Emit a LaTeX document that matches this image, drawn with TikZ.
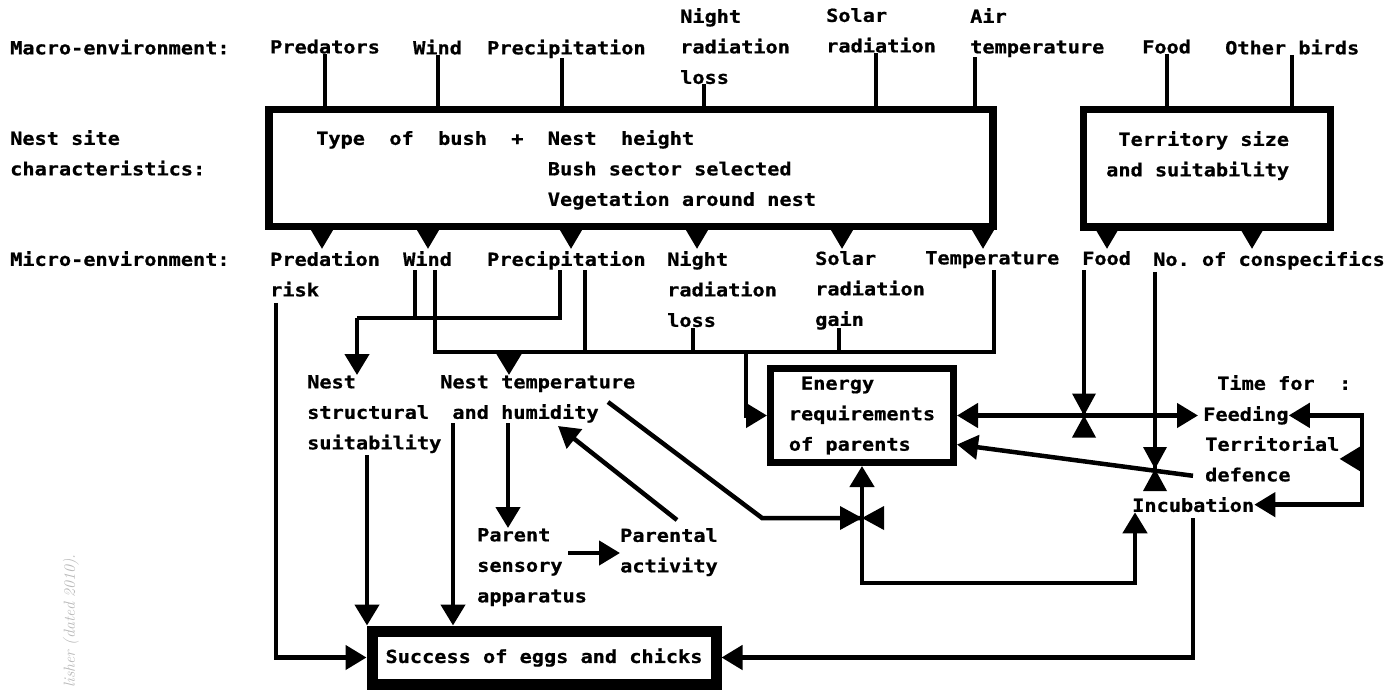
\documentclass[tikz,border=0pt]{standalone}
\usepackage{fontspec}
\setmonofont[FakeStretch=1.125,BoldFeatures={FakeBold=0.8}]{DejaVu Sans Mono}
\usetikzlibrary{arrows.meta}
\newcommand{\plotfont}{\fontsize{18}{30.5}\selectfont\ttfamily\bfseries}

\tikzset{
  lbl/.style={font=\plotfont,anchor=north west,inner sep=0pt,align=left},
  bigbox/.style={draw,line width=7.5pt,inner sep=0pt},
  macline/.style={line width=4pt},
  wire/.style={line width=4.5pt},
  wirearr/.style={wire,-{Triangle[length=21pt,width=24pt]}},
  wireboth/.style={wire,{Triangle[length=21pt,width=24pt]}-{Triangle[length=21pt,width=24pt]}},
  dropar/.style={wire,-{Triangle[length=20pt,width=22pt]}},
  valve/.pic={
    \fill (-12,-22) -- (12,-22) -- (0,0) -- cycle;
    \fill (-12,22) -- (12,22) -- (0,0) -- cycle;
  }
}

\begin{document}
\begin{tikzpicture}[x=1pt,y=-1pt]
        \useasboundingbox (0,0) rectangle (1393,691);
        % macro-environment row
        \node[lbl] (macro) at (10,39.5) {Macro-environment:};
        \node[lbl] (pred) at (270,39.5) {Predators};
        \node[lbl] (wind) at (413,39.5) {Wind};
        \node[lbl] (prec) at (487,39.5) {Precipitation};
        \node[lbl] (night) at (680,8) {Night\\radiation\\loss};
        \node[lbl] (solar) at (826,8) {Solar\\radiation};
        \node[lbl] (air) at (970,8) {Air\\temperature};
        \node[lbl] (food) at (1142,39.5) {Food};
        \node[lbl] (birds) at (1225,39.5) {Other birds};
        % nest site boxes
        \node[lbl] (siteh) at (10,130) {Nest site\\characteristics:};
        \node[bigbox,minimum width=724pt,minimum height=117pt] (site) at (631,168) {};
        \node[lbl] (sitetxt) at (316,130) {Type~~of~~bush~~+~~Nest~~height\\\hphantom{Type~~of~~bush~~+~~}Bush sector selected\\\hphantom{Type~~of~~bush~~+~~}Vegetation around nest};
        \node[bigbox,minimum width=247pt,minimum height=117.5pt] (terr) at (1207,168) {};
        \node[lbl] (terrtxt) at (1106,131) {\hphantom{a}Territory size\\and suitability};
        % micro-environment row
        \node[lbl] (microh) at (10,251) {Micro-environment:};
        \node[lbl] (risk) at (270,251) {Predation\\risk};
        \node[lbl] (mwind) at (403,251) {Wind};
        \node[lbl] (mprec) at (487,251) {Precipitation};
        \node[lbl] (mnight) at (667,251) {Night\\radiation\\loss};
        \node[lbl] (msolar) at (815,251) {Solar\\radiation\\gain};
        \node[lbl] (mtemp) at (925,251) {Temperature};
        \node[lbl] (mfood) at (1082,251) {Food};
        \node[lbl] (consp) at (1153,251) {No.\ of conspecifics};
        % effects
        \node[lbl] (struct) at (307,375) {Nest\\structural\\suitability};
        \node[lbl] (ntemp) at (440,375) {Nest temperature\\\hphantom{a}and humidity};
        \node[lbl] (sense) at (477,528) {Parent\\sensory\\apparatus};
        \node[lbl] (activ) at (620,528) {Parental\\activity};
        \node[draw,line width=7pt,inner sep=0pt,font=\plotfont,align=left,minimum width=183pt,minimum height=94pt] (energy) at (862,415.5) {\hphantom{a}Energy\\requirements\\of parents};
        \node[lbl] (timefor) at (1217,375) {Time for~~:};
        \node[lbl] (feeding) at (1203,406) {Feeding};
        \node[lbl] (defence) at (1205,436) {Territorial\\defence};
        \node[lbl] (incub) at (1132,497) {Incubation};
        \node[draw,line width=11pt,inner sep=0pt,font=\plotfont,minimum width=344pt,minimum height=53pt] (success) at (544,657.5) {Success of eggs and chicks};
        \node[rotate=90,anchor=east,inner sep=0pt,text=black!28,font=\fontsize{16}{18}\selectfont\itshape] (wmark) at (71,554) {lisher (dated 2010).};

        % stems into the boxes
        \draw[macline] (pred.south) -- (pred.south |- site.north);
        \draw[macline] (wind.south) -- (wind.south |- site.north);
        \coordinate (pl) at ([xshift=75pt]prec.south west);
        \draw[macline] (pl) -- (pl |- site.north);
        \coordinate (nl) at ([xshift=24pt]night.south west);
        \draw[macline] (nl) -- (nl |- site.north);
        \coordinate (sl) at ([xshift=50pt]solar.south west);
        \draw[macline] (sl) -- (sl |- site.north);
        \coordinate (al) at ([xshift=5pt]air.south west);
        \draw[macline] (al) -- (al |- site.north);
        \draw[macline] (food.south) -- (food.south |- terr.north);
        \draw[macline] (birds.south) -- (birds.south |- terr.north);
        % arrows out of the boxes
        \foreach \x in {322,428,571,697,842,983}{
          \coordinate (dtip) at (\x,249);
          \draw[dropar] (site.south -| dtip) -- (dtip);
        }
        \foreach \x in {1107,1252}{
          \coordinate (dtip) at (\x,249);
          \draw[dropar] (terr.south -| dtip) -- (dtip);
        }

        % wind and precipitation to nest structure
        \coordinate (w1) at (415,270);
        \coordinate (w2) at (435,270);
        \coordinate (p1) at (560,270);
        \coordinate (p2) at (585,270);
        \coordinate (t1) at (994,270);
        \coordinate (l1) at (693,328);
        \coordinate (g1) at (839,328);
        \coordinate (j1) at (357,318);
        \coordinate (j2) at (435,352);
        \draw[wire] (w1) -- (w1 |- j1);
        \draw[wire] (p1) |- (j1);
        \draw[wirearr] (j1) -- (j1 |- struct.north);
        % heat bus
        \draw[wire] (w2) |- (t1 |- j2) -- (t1);
        \draw[wire] (p2) -- (p2 |- j2);
        \draw[wire] (l1) -- (l1 |- j2);
        \draw[wire] (g1) -- (g1 |- j2);
        \coordinate (h1) at (509,352);
        \draw[wirearr] (h1) -- (h1 |- ntemp.north);
        \coordinate (h2) at (746,352);
        \draw[wirearr] (h2) |- (energy.west);

        % to success
        \coordinate (r1) at ([xshift=6pt,yshift=-6pt]risk.south west);
        \draw[wirearr] (r1) |- (success.west);
        \coordinate (s1) at (367,455);
        \draw[wirearr] (s1) -- (s1 |- success.north);
        \coordinate (n1) at (453,423);
        \draw[wirearr] (n1) -- (n1 |- success.north);
        \coordinate (n2) at (508,423);
        \draw[wirearr] (n2) -- (n2 |- sense.north);
        \coordinate (a1) at (568,553);
        \draw[wirearr] (a1) -- (a1 -| activ.west);
        \coordinate (a2) at (677,520);
        \coordinate (n3) at (558,426);
        \draw[wirearr] (a2) -- (n3);

        % nest temperature controls energy/incubation flow
        \coordinate (n4) at (608,402);
        \coordinate (n5) at (762,518);
        \coordinate (vnest) at (energy.south |- n5);
        \draw[wire] (n4) -- (n5) -- (vnest);
        \coordinate (low) at (1135,583);
        \draw[wireboth] (energy.south) |- (low) -- (low |- incub.south);
        \pic[rotate=90] at (vnest) {valve};

        % energy and time budget
        \coordinate (fd) at ([xshift=-5pt]feeding.west);
        \draw[wireboth] (energy.east) -- (energy.east -| fd);
        \coordinate (fx) at ([xshift=2pt,yshift=-5pt]mfood.south west);
        \draw[wire] (fx) -- (fx |- energy.east);
        \pic at (fx |- energy.east) {valve};
        \coordinate (dd) at ([xshift=-12pt,yshift=6pt]defence.south west);
        \coordinate (de) at ([yshift=-29pt]energy.east);
        \draw[wirearr] (dd) -- (de);
        \coordinate (cx) at ([xshift=2pt,yshift=-2pt]consp.south west);
        \coordinate (vcons) at (1155,469);
        \draw[wire] (cx) -- (cx |- vcons);
        \pic at (cx |- vcons) {valve};
        \coordinate (brx) at (1362,0);
        \draw[wireboth] (feeding.east) -- (feeding.east -| brx) -- (incub.east -| brx) -- (incub.east);
        \draw[wirearr] (defence.east -| brx) -- (defence.east);
        \draw[wirearr] ([yshift=-6pt]incub.south) |- (success.east);
      \end{tikzpicture}
\end{document}
